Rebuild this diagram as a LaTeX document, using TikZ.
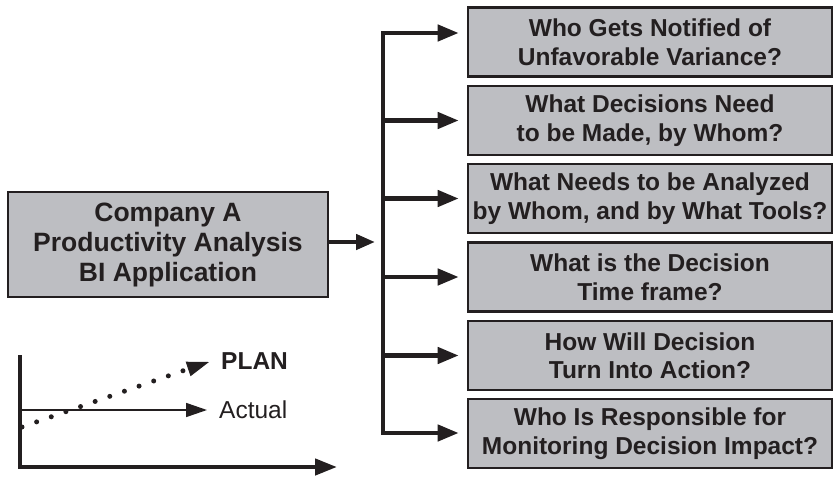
\documentclass[tikz,border=0pt]{standalone}
\usepackage{fontspec}
\setmainfont{Liberation Sans}
\usetikzlibrary{arrows.meta}
\definecolor{boxgray}{HTML}{BDBEC2}
\definecolor{ink}{HTML}{231F20}
\tikzset{
  qbox/.style={draw=ink, line width=2.6pt, fill=boxgray, minimum width=364pt, minimum height=69pt,
    align=center, inner sep=0pt, font=\bfseries\fontsize{24.5}{28.5}\selectfont, text=ink},
  mainbox/.style={draw=ink, line width=2.6pt, fill=boxgray, minimum width=320pt, minimum height=105pt,
    align=center, inner sep=0pt, font=\bfseries\fontsize{26.5}{30}\selectfont, text=ink},
  branch/.style={draw=ink, line width=4.4pt, -{Triangle[length=21pt,width=16pt]}, shorten >=8pt},
  axis/.style={draw=ink, line width=4.4pt},
  thinarrow/.style={draw=ink, line width=1.6pt, -{Triangle[length=21pt,width=14pt]}},
  lbl/.style={inner sep=0pt, anchor=west, text=ink}
}
\begin{document}
\begin{tikzpicture}[x=1pt,y=-1pt]
\useasboundingbox (0,0) rectangle (834,476);
% right boxes
\node[qbox] (b1) at (650,42) {Who Gets Notified of\\Unfavorable Variance?};
\node[qbox] (b2) at (650,120.5) {What Decisions Need\\to be Made, by Whom?};
\node[qbox] (b3) at (650,198.5) {What Needs to be Analyzed\\by Whom, and by What Tools?};
\node[qbox] (b4) at (650,277) {What is the Decision\\Time frame?};
\node[qbox] (b5) at (650,355.5) {How Will Decision\\Turn Into Action?};
\node[qbox] (b6) at (650,433.5) {Who Is Responsible for\\Monitoring Decision Impact?};
% main box
\node[mainbox] (main) at (168,244.5) {Company A\\Productivity Analysis\\BI Application};
% trunk
\coordinate (t1) at (383,33);
\coordinate (t6) at (383,433);
\coordinate (tin) at (375,242);
\draw[ink, line width=4.4pt, line cap=rect] (t1) -- (t6);
\draw[branch] (t1) -- (t1 -| b1.west);
\draw[branch] (t1 |- b2.west) -- (b2.west);
\draw[branch] (t1 |- b3.west) -- (b3.west);
\draw[branch] (t1 |- b4.west) -- (b4.west);
\draw[branch] (t1 |- b5.west) -- (b5.west);
\draw[branch] (t6) -- (t6 -| b6.west);
% main arrow
\draw[ink, line width=4.4pt, -{Triangle[length=19pt,width=15pt]}] (main.east) ++(0,-2.5) coordinate (mo) -- (tin);
% chart
\coordinate (ytop) at (20,357);
\coordinate (org) at (20,467);
\coordinate (xend) at (337,467);
\draw[axis, line cap=rect] (ytop) -- (org);
\draw[axis, -{Triangle[length=22pt,width=16pt]}] (org) -- (xend);
\coordinate (a0) at (20,410);
\node[lbl, font=\fontsize{24.5}{28}\selectfont] (actual) at (219,410) {Actual};
\draw[thinarrow, shorten >=12pt] (a0) -- (actual.west);
\coordinate (p0) at (22,427);
\coordinate (p1) at (188,369);
\coordinate (ptip) at (209,362);
\node[lbl, font=\bfseries\fontsize{24.5}{28}\selectfont] (plan) at (221,361) {PLAN};
\draw[ink, line width=5pt, line cap=round, dash pattern=on 0pt off 15.5pt] (p0) -- (p1);
\draw[ink, line width=1pt, -{Triangle[length=22pt,width=15pt]}] (p1) -- (ptip);
\end{tikzpicture}
\end{document}
